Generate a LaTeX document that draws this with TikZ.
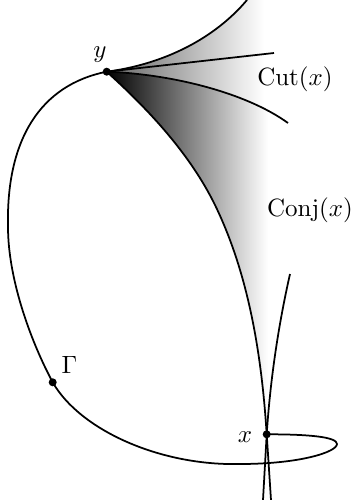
\documentclass[tikz,border=0pt]{standalone}
\begin{document}
\begin{tikzpicture}[x=0.4pt, y=-0.4pt, curve/.style={line width=0.7pt}, dot/.style={fill=black}]
    \useasboundingbox (0,0) rectangle (354,500);
    \coordinate (y) at (106.7,71.7);
    \coordinate (x) at (266.7,434.3);
    \coordinate (g) at (52.7,382.3);
    \coordinate (c) at (215,205);
    % light shading above the conjugate branch
    \begin{scope}
        \clip (y) .. controls (165,64) and (215,38) .. (247,0) -- (300,0) -- (300,434.3) -- (x)
            .. controls (261.7,356) and (249,275) .. (c) .. controls (190,154) and (149,110) .. (y) -- cycle;
        \shade[left color=black!60, right color=white] (106.7,-5) rectangle (264,505);
    \end{scope}
    % darker shading below the lower cut branch
    \begin{scope}
        \clip (y) .. controls (170,74) and (245,92) .. (288,123) -- (300,123) -- (300,434.3) -- (x)
            .. controls (261.7,356) and (249,275) .. (c) .. controls (190,154) and (149,110) .. (y) -- cycle;
        \shade[left color=black, right color=white] (106.7,-5) rectangle (268,505);
    \end{scope}
    % the loop Gamma
    \draw[curve] (x) .. controls (310,434.3) and (337,437) .. (337,444)
        .. controls (337,452) and (300,464) .. (240,464)
        .. controls (160,466) and (80,430) .. (g)
        .. controls (29.2,338.3) and (8,277) .. (8,227)
        .. controls (6,140) and (40,85) .. (y);
    % cut locus
    \draw[curve] (y) .. controls (165,64) and (215,38) .. (247,0);
    \draw[curve] (y) -- (274,53);
    \draw[curve] (y) .. controls (170,74) and (245,92) .. (288,123);
    % conjugate locus
    \draw[curve] (y) .. controls (149,110) and (190,154) .. (c)
        .. controls (249,275) and (261.7,356) .. (x) -- (271,500);
    \draw[curve] (290,274) .. controls (278,327) and (270.2,381) .. (x) -- (263,500);
    \fill[dot] (y) circle (1.6pt);
    \fill[dot] (x) circle (1.6pt);
    \fill[dot] (g) circle (1.6pt);
    \node[anchor=base] (ylab) at (100,57) {$y$};
    \node[anchor=base] (xlab) at (245,442) {$x$};
    \node[anchor=base] (glab) at (69.5,373) {$\Gamma$};
    \node[anchor=base] (cutlab) at (295,85.75) {$\mathrm{Cut}(x)$};
    \node[anchor=base] (conjlab) at (310,216.75) {$\mathrm{Conj}(x)$};
\end{tikzpicture}
\end{document}
